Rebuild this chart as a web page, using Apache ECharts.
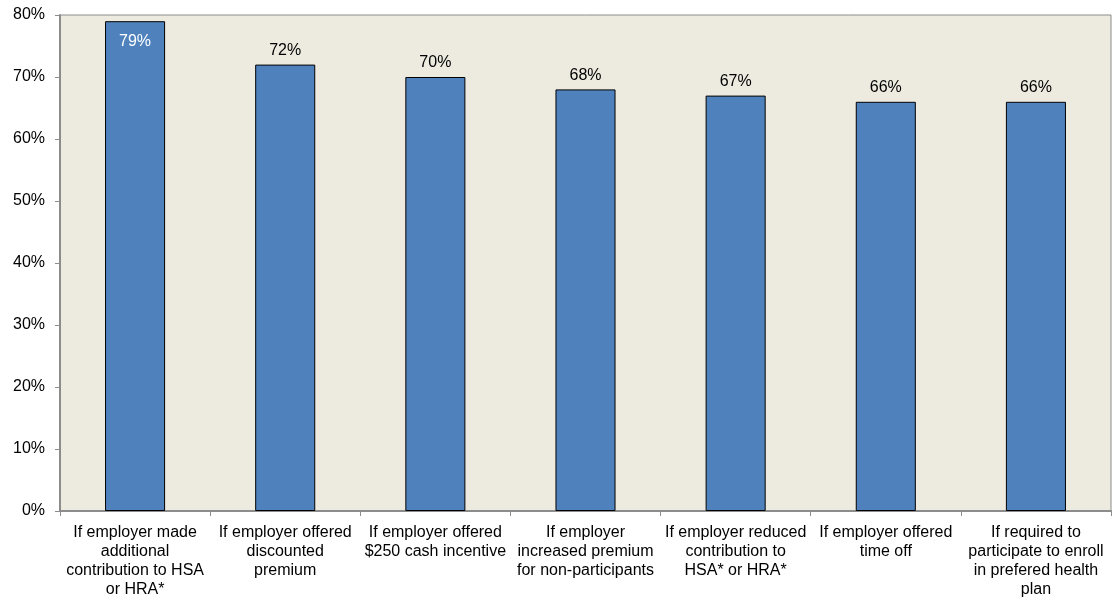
<!DOCTYPE html>
<html>
<head>
<meta charset="utf-8">
<script src="https://cdn.jsdelivr.net/npm/echarts@6/dist/echarts.min.js"></script>
<style>
html, body { margin: 0; padding: 0; background: #ffffff; }
#chart { width: 1117px; height: 603px; }
</style>
</head>
<body>
<div id="chart"></div>
<script>
// Incentive categories (line breaks as shown under the axis)
const categories = [
  "If employer made\nadditional\ncontribution to HSA\nor HRA*",
  "If employer offered\ndiscounted\npremium",
  "If employer offered\n$250 cash incentive",
  "If employer\nincreased premium\nfor non-participants",
  "If employer reduced\ncontribution to\nHSA* or HRA*",
  "If employer offered\ntime off",
  "If required to\nparticipate to enroll\nin prefered health\nplan"
];
// Share of respondents, percent
const values = [79, 72, 70, 68, 67, 66, 66];
// Y axis range and step, percent
const yMin = 0;
const yMax = 80;
const yStep = 10;

const font = "'Liberation Sans', Arial, sans-serif";

const chart = echarts.init(document.getElementById('chart'), null, { renderer: 'canvas' });

const seriesData = values.map((v, i) => ({
  value: v,
  label: i === 0
    ? { position: 'insideTop', color: '#ffffff', distance: 12 }
    : { position: 'top', color: '#000000', distance: 6 }
}));

chart.setOption({
  animation: false,
  grid: {
    left: 60, right: 6, top: 15, bottom: 92,
    show: true,
    backgroundColor: '#EDEAE0',
    borderColor: '#8c8c8c',
    borderWidth: 1
  },
  xAxis: {
    type: 'category',
    data: categories,
    axisLine: { show: true, lineStyle: { color: '#8c8c8c', width: 2 } },
    axisTick: { show: true, length: 5, alignWithLabel: false, lineStyle: { color: '#8c8c8c' } },
    axisLabel: {
      interval: 0,
      margin: 12,
      color: '#000000',
      fontFamily: font,
      fontSize: 16,
      lineHeight: 19,
      align: 'center'
    },
    splitLine: { show: false }
  },
  yAxis: {
    type: 'value',
    min: yMin,
    max: yMax,
    interval: yStep,
    axisLine: { show: true, lineStyle: { color: '#8c8c8c', width: 2 } },
    axisTick: { show: true, length: 5, lineStyle: { color: '#8c8c8c' } },
    axisLabel: {
      color: '#000000',
      fontFamily: font,
      fontSize: 16,
      margin: 15,
      formatter: v => v + '%'
    },
    splitLine: { show: false }
  },
  series: [{
    type: 'bar',
    data: seriesData,
    barWidth: '40%',
    itemStyle: { color: '#4F81BD', borderColor: '#000000', borderWidth: 1 },
    label: {
      show: true,
      fontFamily: font,
      fontSize: 16,
      formatter: p => p.value + '%'
    }
  }]
});
</script>
</body>
</html>
